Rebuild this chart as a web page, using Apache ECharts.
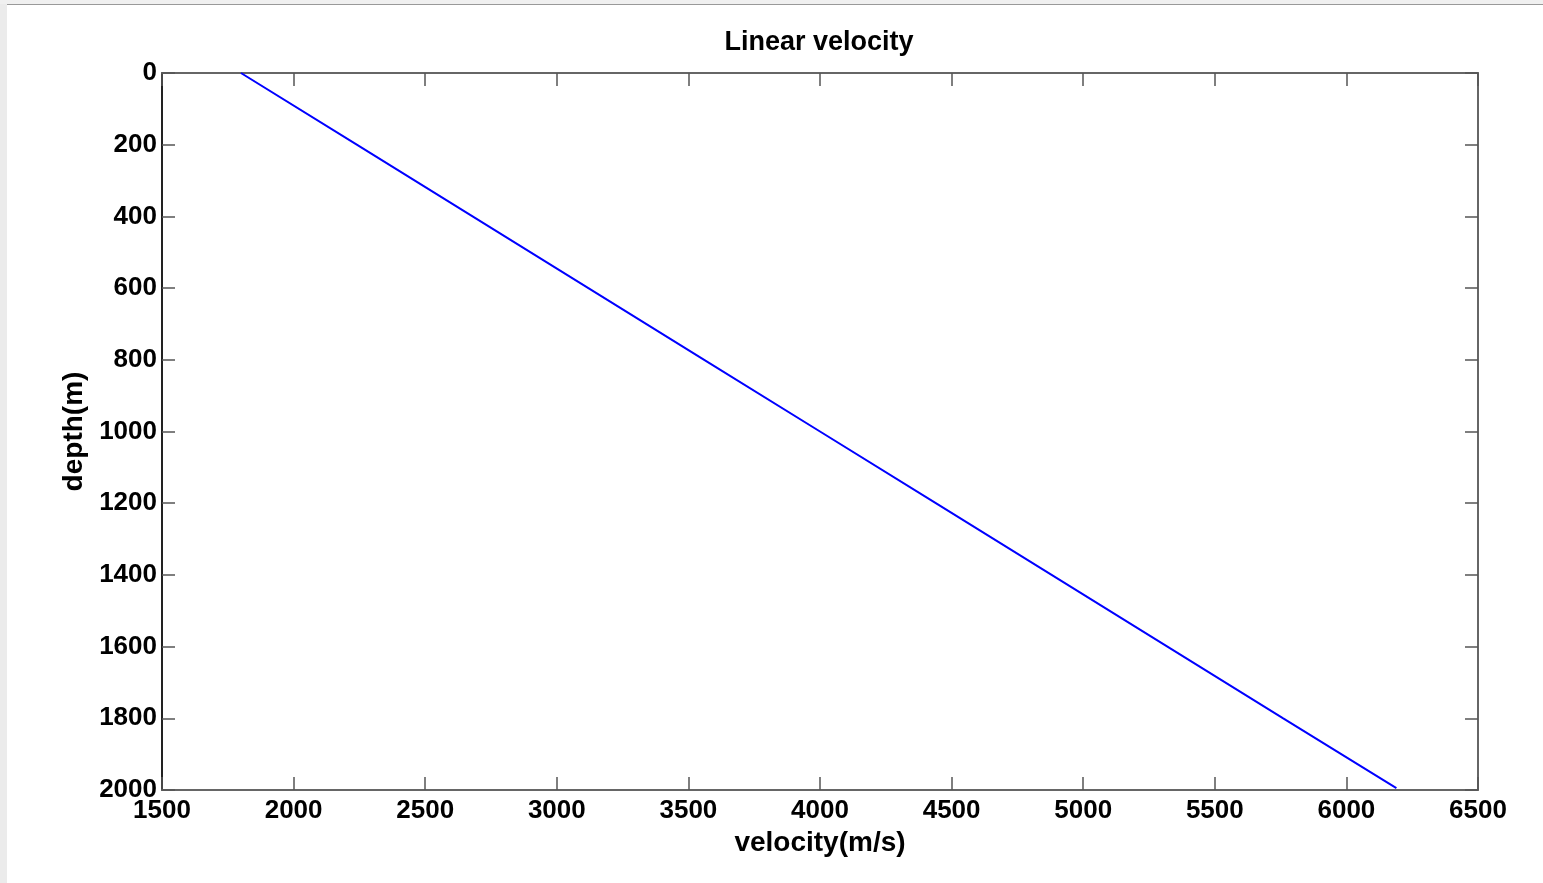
<!DOCTYPE html>
<html><head><meta charset="utf-8">
<script src="https://cdn.jsdelivr.net/npm/echarts@6/dist/echarts.min.js"></script>
<style>html,body{margin:0;padding:0;background:#fff;}#c{width:1543px;height:883px;}</style>
</head><body><div id="c"></div>
<script>
const titleText = 'Linear velocity';
const xName = 'velocity(m/s)';
const yName = 'depth(m)';
const velocity = [1800, 2240, 2680, 3120, 3560, 4000, 4440, 4880, 5320, 5760, 6190];
const depth = [0, 200, 400, 600, 800, 1000, 1200, 1400, 1600, 1800, 1995];
const xTicks = [1500, 2000, 2500, 3000, 3500, 4000, 4500, 5000, 5500, 6000, 6500];
const yTicks = [0, 200, 400, 600, 800, 1000, 1200, 1400, 1600, 1800, 2000];

const font = 'Liberation Sans, Arial, sans-serif';
const lbl = {fontFamily: font, fontWeight: 'bold', fontSize: 26, color: '#000'};
const nameStyle = {fontFamily: font, fontWeight: 'bold', fontSize: 28, color: '#000'};
const chart = echarts.init(document.getElementById('c'));
const pts = velocity.map((v, i) => [v, depth[i]]);
const tick = {inside: true, length: 13, lineStyle: {color: '#555', width: 1.5}};
chart.setOption({
  animation: false,
  backgroundColor: '#fff',
  title: {text: titleText, left: 814, top: 24, textAlign: 'center',
    textStyle: {fontFamily: font, fontWeight: 'bold', fontSize: 27, color: '#000'}},
  grid: {left: 162, top: 73, right: 65, bottom: 93, containLabel: false},
  graphic: [
    {type: 'rect', shape: {x: 0, y: 0, width: 7, height: 883}, style: {fill: '#ebebeb'}, z: 100},
    {type: 'rect', shape: {x: 0, y: 0, width: 1543, height: 4}, style: {fill: '#f0f0f0'}, z: 100},
    {type: 'line', shape: {x1: 7, y1: 4.5, x2: 1543, y2: 4.5}, style: {stroke: '#999', lineWidth: 1}, z: 100}
  ],
  xAxis: [
    {type: 'value', min: xTicks[0], max: xTicks[xTicks.length - 1], interval: 500, position: 'bottom',
      name: xName, nameLocation: 'middle', nameGap: 36,
      nameTextStyle: nameStyle,
      axisLine: {onZero: false, lineStyle: {color: '#666', width: 2}},
      axisTick: tick,
      axisLabel: Object.assign({margin: 8, formatter: v => String(v)}, lbl),
      splitLine: {show: false}},
    {type: 'value', min: xTicks[0], max: xTicks[xTicks.length - 1], interval: 500, position: 'top',
      axisLine: {onZero: false, lineStyle: {color: '#666', width: 2}},
      axisTick: tick,
      axisLabel: {show: false}, splitLine: {show: false}}
  ],
  yAxis: [
    {type: 'value', min: yTicks[0], max: yTicks[yTicks.length - 1], interval: 200, inverse: true, position: 'left',
      name: yName, nameLocation: 'middle', nameGap: 68, nameRotate: 90,
      nameTextStyle: nameStyle,
      axisLine: {onZero: false, lineStyle: {color: '#222', width: 2}},
      axisTick: tick,
      axisLabel: Object.assign({margin: 5, formatter: v => String(v)}, lbl),
      splitLine: {show: false}},
    {type: 'value', min: yTicks[0], max: yTicks[yTicks.length - 1], interval: 200, inverse: true, position: 'right',
      axisLine: {onZero: false, lineStyle: {color: '#666', width: 2}},
      axisTick: tick,
      axisLabel: {show: false}, splitLine: {show: false}}
  ],
  series: [{type: 'line', data: pts, xAxisIndex: 0, yAxisIndex: 0, showSymbol: false,
    lineStyle: {color: '#0000ff', width: 2}, itemStyle: {color: '#0000ff'}}]
});
</script></body></html>
